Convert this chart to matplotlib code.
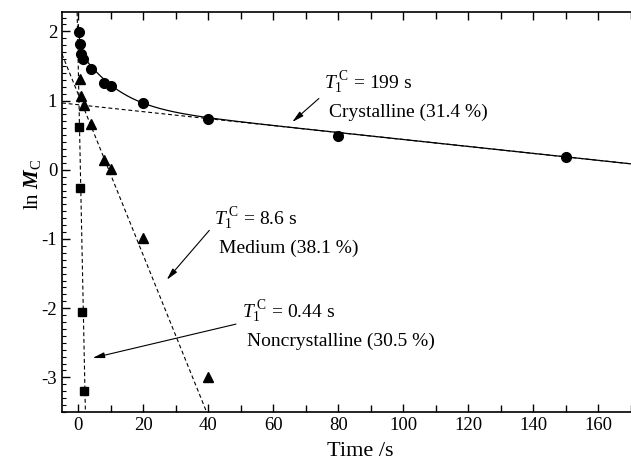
import numpy as np
import matplotlib.pyplot as plt
from matplotlib.ticker import MultipleLocator

plt.rcParams['font.family'] = 'Liberation Serif'
plt.rcParams['mathtext.fontset'] = 'custom'
plt.rcParams['mathtext.rm'] = 'Liberation Serif'
plt.rcParams['mathtext.it'] = 'Liberation Serif:italic'
plt.rcParams['mathtext.bf'] = 'Liberation Serif:bold'
plt.rcParams['mathtext.bfit'] = 'Liberation Serif:bold:italic'
plt.rcParams['axes.unicode_minus'] = False

# ln M_C of the three fractions vs time
t_cry = [0.1, 0.4, 0.8, 1.6, 4, 8, 10, 20, 40, 80, 150]
m_cry = [1.99, 1.82, 1.68, 1.60, 1.46, 1.26, 1.21, 0.96, 0.73, 0.49, 0.19]
t_med = [0.4, 0.8, 1.8, 4, 8, 10, 20, 40]
m_med = [1.31, 1.07, 0.93, 0.66, 0.14, 0.01, -0.99, -3.0]
t_non = [0.1, 0.5, 1.0, 1.8]
m_non = [0.62, -0.27, -2.06, -3.2]

# fitted components: T1 (s), fraction (%), intercept of the ln line
names = ['Crystalline', 'Medium', 'Noncrystalline']
T1 = [199, 8.6, 0.44]
T1_txt = ['199', '8.6', '0.44']
frac = [31.4, 38.1, 30.5]
icpt = [0.94, 1.09, 1.49]

fig = plt.figure(figsize=(6.31, 4.66), dpi=100)
ax = fig.add_axes([62/631, 1-412/466, 1-62/631, 400/466])

tt = np.linspace(-5, 170, 800)
dash = (0, (3.5, 2.5))
for k in range(3):
    ax.plot(tt, icpt[k] - tt/T1[k], color='k', lw=0.8, ls=dash)

# total magnetisation from the three components
M0 = np.exp(icpt[0]) / (frac[0]/100)
tf = np.linspace(0, 170, 2000)
fit = sum(M0*frac[k]/100*np.exp(-tf/T1[k]) for k in range(3))
ax.plot(tf, np.log(fit), color='k', lw=0.9)

ax.plot(t_cry, m_cry, 'o', color='k', ms=7)
ax.plot(t_med, m_med, '^', color='k', ms=7.5)
ax.plot(t_non, m_non, 's', color='k', ms=5.2)

# labels and arrows
lab_T = [(75.7, 1.18), (41.8, -0.79), (50.5, -2.14)]
lab_N = [(77.2, 0.765), (43.4, -1.20), (52.0, -2.54)]
arr = [((74.0, 1.03), (65.8, 0.69)),
       ((40.3, -0.876), (27.2, -1.59)),
       ((48.5, -2.23), (4.4, -2.72))]
for k in range(3):
    ax.text(lab_T[k][0], lab_T[k][1],
            r'$T_{1}^{\;\mathrm{C}}$' + ' = ' + T1_txt[k] + ' s',
            fontsize=14, va='baseline')
    ax.text(lab_N[k][0], lab_N[k][1], '%s (%.1f %%)' % (names[k], frac[k]),
            fontsize=14, va='baseline')
    ax.annotate('', xy=arr[k][1], xytext=arr[k][0],
                arrowprops=dict(arrowstyle='-|>,head_length=0.7,head_width=0.17',
                                color='k', lw=0.8, shrinkA=0, shrinkB=0))

ax.set_xlim(-5, 170)
ax.set_ylim(-3.5, 2.28)
ax.xaxis.set_major_locator(MultipleLocator(20))
ax.xaxis.set_minor_locator(MultipleLocator(10))
ax.yaxis.set_major_locator(MultipleLocator(1))
ax.yaxis.set_minor_locator(MultipleLocator(0.1))
ax.tick_params(which='both', direction='in', top=True, right=False, labelsize=13.5)
ax.tick_params(which='major', length=6, width=1)
ax.tick_params(axis='x', which='minor', length=5, width=1)
ax.tick_params(axis='y', which='minor', length=3, width=0.8)
ax.spines['right'].set_visible(False)
for s in ['left', 'top', 'bottom']:
    ax.spines[s].set_linewidth(1.2)

ax.set_xlabel('Time /s', fontsize=16)
ax.xaxis.set_label_coords((360-62)/569, -0.075)
ax.set_ylabel(r'ln $\mathbfit{M}_{\mathrm{C}}$', fontsize=15)
ax.yaxis.set_label_coords(-0.033, 0.57)

fig.savefig('out.png', dpi=100)
